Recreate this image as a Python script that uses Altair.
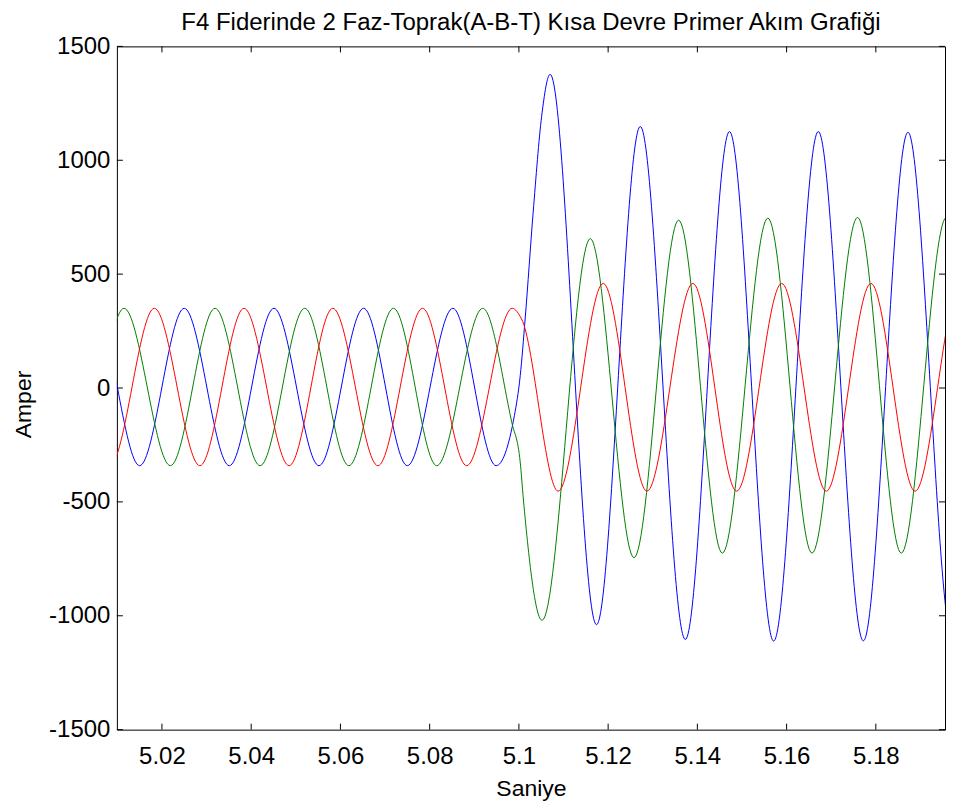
import altair as alt
import pandas as pd

# ---- data (extrema and a few fault-region points) ----
# the first and last entries of each list lie just outside the visible window
blue_t = [4.9950, 5.0050, 5.0150, 5.0250, 5.0351, 5.0451, 5.0552, 5.0652, 5.0750, 5.0852, 5.0949,
          5.0990, 5.1003, 5.1014, 5.1032, 5.1051, 5.1070, 5.1174, 5.1272, 5.1373, 5.1472,
          5.1571, 5.1671, 5.1772, 5.1872, 5.1972, 5.2072]
blue_v = [-341, 350, -341, 350, -341, 350, -341, 350, -341, 350, -341,
          -120, 54, 303, 772, 1193, 1377, -1039, 1148, -1104, 1126,
          -1111, 1126, -1110, 1123, -1108, 1123]

green_t = [4.9915, 5.0015, 5.0115, 5.0219, 5.0319, 5.0420, 5.0520, 5.0619, 5.0719, 5.0816, 5.0919,
           5.0984, 5.1003, 5.1010, 5.1052, 5.1160, 5.1258, 5.1358, 5.1456, 5.1558, 5.1657,
           5.1759, 5.1857, 5.1958, 5.2057, 5.2158]
green_v = [350, -341, 350, -341, 350, -341, 350, -341, 350, -341, 350,
           -150, -326, -487, -1020, 656, -745, 737, -725, 746, -725,
           749, -725, 749, -725, 749]

red_t = [4.9983, 5.0083, 5.0183, 5.0285, 5.0384, 5.0485, 5.0583, 5.0684, 5.0784, 5.0883, 5.0985,
         5.1006, 5.1088, 5.1189, 5.1287, 5.1390, 5.1488, 5.1589, 5.1689, 5.1789, 5.1888,
         5.1989, 5.2088]
red_v = [350, -341, 350, -341, 350, -341, 350, -341, 350, -341, 350,
         303, -453, 459, -453, 459, -453, 459, -453, 459, -453,
         459, -453]

x_ticks = [5.02, 5.04, 5.06, 5.08, 5.10, 5.12, 5.14, 5.16, 5.18]
y_ticks = [-1500, -1000, -500, 0, 500, 1000, 1500]
x_domain = [5.0099, 5.1955]
y_domain = [-1500, 1500]

phases = ["A", "B", "C"]
colors = ["#0000ff", "#008000", "#ff0000"]

rows = []
for name, ts, vs in (("A", blue_t, blue_v), ("B", green_t, green_v), ("C", red_t, red_v)):
    for t, v in zip(ts, vs):
        rows.append({"phase": name, "t": t, "v": v})
df = pd.DataFrame(rows)

W, H = 829, 684
FONT = "Liberation Sans"
TL = 6  # tick length

xs = alt.Scale(domain=x_domain, nice=False, zero=False)
ys = alt.Scale(domain=y_domain, nice=False, zero=False)

x_axis = alt.Axis(values=x_ticks, labelExpr="toString(datum.value)", ticks=False,
                  domain=False, grid=False, labelPadding=15, titlePadding=9,
                  labelFontSize=24, titleFontSize=23, labelFont=FONT, titleFont=FONT,
                  titleFontWeight="normal", labelColor="black", titleColor="black",
                  labelFlush=False)
y_axis = alt.Axis(values=y_ticks, labelExpr="toString(datum.value)", ticks=False,
                  domain=False, grid=False, labelPadding=7, titlePadding=13,
                  labelFontSize=24, titleFontSize=23, labelFont=FONT, titleFont=FONT,
                  titleFontWeight="normal", labelColor="black", titleColor="black",
                  titleY=H / 2 + 16, labelFlush=False)

lines = alt.Chart(df).mark_line(clip=True, strokeWidth=1, interpolate="monotone").encode(
    x=alt.X("t:Q", scale=xs, title="Saniye", axis=x_axis),
    y=alt.Y("v:Q", scale=ys, title="Amper", axis=y_axis),
    color=alt.Color("phase:N", scale=alt.Scale(domain=phases, range=colors), legend=None),
    detail="phase:N",
    order="t:Q",
)

xt = pd.DataFrame({"t": x_ticks})
yt = pd.DataFrame({"v": y_ticks})

xb = alt.Chart(xt).mark_rule(color="black", strokeWidth=1).encode(
    x=alt.X("t:Q", scale=xs, title="Saniye"), y=alt.value(H), y2=alt.value(H - TL))
xtop = alt.Chart(xt).mark_rule(color="black", strokeWidth=1).encode(
    x=alt.X("t:Q", scale=xs, title="Saniye"), y=alt.value(0), y2=alt.value(TL))
yl = alt.Chart(yt).mark_rule(color="black", strokeWidth=1).encode(
    y=alt.Y("v:Q", scale=ys, title="Amper"), x=alt.value(0), x2=alt.value(TL))
yr = alt.Chart(yt).mark_rule(color="black", strokeWidth=1).encode(
    y=alt.Y("v:Q", scale=ys, title="Amper"), x=alt.value(W), x2=alt.value(W - TL))

chart = alt.layer(lines, xb, xtop, yl, yr).properties(
    width=W, height=H,
    title=alt.TitleParams("F4 Fiderinde 2 Faz-Toprak(A-B-T) Kısa Devre Primer Akım Grafiği",
                          fontSize=24, font=FONT, fontWeight="normal", color="black",
                          anchor="middle", offset=-1),
    padding={"left": 4, "top": 3, "right": 0, "bottom": 0},
    background="white",
).configure_view(stroke="black", strokeWidth=1)

chart.save("out.html", embed_options={"renderer": "svg", "actions": False})
